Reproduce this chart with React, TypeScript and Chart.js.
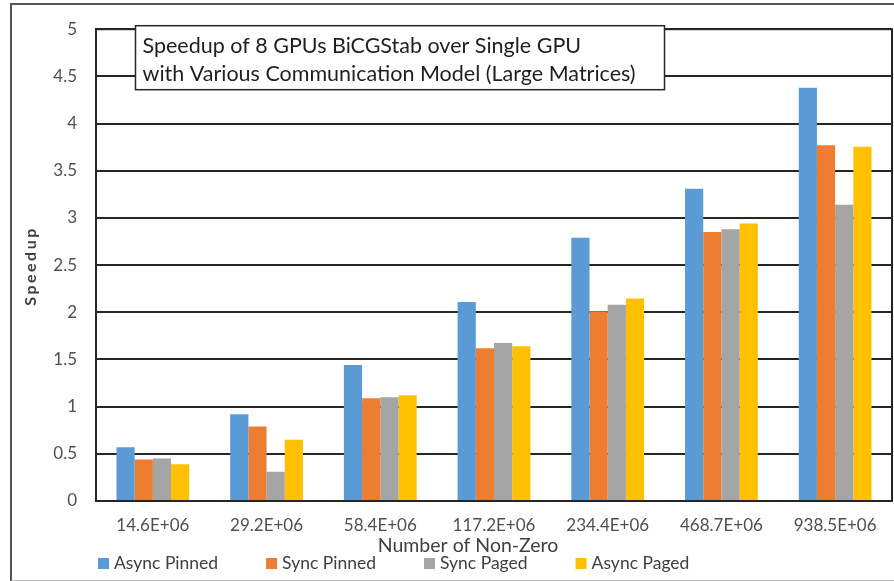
import { useEffect, useRef } from "react";
import { Chart, registerables } from "chart.js";

Chart.register(...registerables);

// Matrix sizes (number of non-zero entries) on the category axis
const categories = [
  "14.6E+06",
  "29.2E+06",
  "58.4E+06",
  "117.2E+06",
  "234.4E+06",
  "468.7E+06",
  "938.5E+06",
];

// Speedup of 8 GPUs over a single GPU, per communication model
const asyncPinned = [0.57, 0.92, 1.44, 2.11, 2.79, 3.31, 4.38];
const syncPinned = [0.44, 0.79, 1.09, 1.62, 2.01, 2.85, 3.77];
const syncPaged = [0.45, 0.31, 1.1, 1.675, 2.08, 2.88, 3.14];
const asyncPaged = [0.39, 0.65, 1.12, 1.64, 2.145, 2.94, 3.755];

const seriesNames = ["Async Pinned", "Sync Pinned", "Sync Paged", "Async Paged"];
const seriesColors = ["#5B9BD5", "#ED7D31", "#A5A5A5", "#FFC000"];

const yMin = 0;
const yMax = 5;
const yStep = 0.5;

const titleLines = [
  "Speedup of 8 GPUs BiCGStab over Single GPU",
  "with Various Communication Model (Large Matrices)",
];
const xTitle = "Number of Non-Zero";
const yTitle = "Speedup";

const FONT = "Lato, 'Open Sans', sans-serif";
const GRID = "#262626";
const TICK = "#505050";

// Draws the plot frame, the boxed title, the axis titles and the legend row.
const decorations = {
  id: "decorations",
  beforeDatasetsDraw(chart: any) {
    const { ctx, chartArea: a } = chart;
    ctx.save();
    ctx.strokeStyle = GRID;
    ctx.lineWidth = 2;
    ctx.strokeRect(a.left, a.top, a.right - a.left, a.bottom - a.top);
    ctx.restore();
  },
  afterDraw(chart: any) {
    const { ctx, chartArea: a } = chart;
    ctx.save();

    // boxed title inside the plot
    const boxL = a.left + 39.5;
    const boxT = a.top - 3.5;
    const boxW = 529;
    const boxH = 64;
    ctx.fillStyle = "#ffffff";
    ctx.fillRect(boxL, boxT, boxW, boxH);
    ctx.strokeStyle = GRID;
    ctx.lineWidth = 1.5;
    ctx.strokeRect(boxL, boxT, boxW, boxH);
    ctx.fillStyle = "#1f1f1f";
    ctx.font = `21.5px ${FONT}`;
    ctx.textAlign = "left";
    ctx.textBaseline = "middle";
    titleLines.forEach((line, i) => {
      ctx.fillText(line, boxL + 7, boxT + 20 + i * 28.5);
    });

    // y axis title
    ctx.save();
    ctx.translate(30.5, 266);
    ctx.rotate(-Math.PI / 2);
    ctx.font = `bold 16px ${FONT}`;
    (ctx as any).letterSpacing = "2.5px";
    ctx.fillStyle = "#404040";
    ctx.textAlign = "center";
    ctx.textBaseline = "middle";
    ctx.fillText(yTitle, 0, 0);
    ctx.restore();

    // x axis title
    ctx.font = `19.5px ${FONT}`;
    ctx.fillStyle = "#404040";
    ctx.textAlign = "center";
    ctx.textBaseline = "middle";
    ctx.fillText(xTitle, 468, 546);

    // legend row
    ctx.font = `17.5px ${FONT}`;
    ctx.textAlign = "left";
    let x = a.left + 2;
    const y = 563;
    chart.data.datasets.forEach((ds: any) => {
      ctx.fillStyle = ds.backgroundColor;
      ctx.fillRect(x, y - 5, 11, 11);
      ctx.fillStyle = "#404040";
      ctx.fillText(ds.label, x + 16, y);
      x += 16 + ctx.measureText(ds.label).width + 48;
    });

    ctx.restore();
  },
};

export default function App() {
  const canvasRef = useRef<HTMLCanvasElement | null>(null);

  useEffect(() => {
    const canvas = canvasRef.current;
    if (!canvas) return;
    Chart.defaults.font.family = FONT;
    const values = [asyncPinned, syncPinned, syncPaged, asyncPaged];
    const chart = new Chart(canvas, {
      type: "bar",
      data: {
        labels: categories,
        datasets: values.map((data, i) => ({
          label: seriesNames[i],
          data,
          backgroundColor: seriesColors[i],
          borderWidth: 0,
          categoryPercentage: 0.64,
          barPercentage: 1,
        })),
      },
      options: {
        responsive: false,
        animation: false,
        layout: { padding: { left: 0, right: 2, top: 15.5, bottom: 0 } },
        plugins: {
          legend: { display: false },
          title: { display: false },
          tooltip: { enabled: false },
        },
        scales: {
          x: {
            grid: { display: false, drawTicks: false },
            border: { display: true, color: GRID, width: 2 },
            ticks: { color: TICK, font: { size: 17 }, padding: 14, maxRotation: 0 },
            afterFit: (scale: any) => {
              scale.height = 80;
            },
          },
          y: {
            min: yMin,
            max: yMax,
            grid: { color: GRID, lineWidth: 2, drawTicks: false },
            border: { display: true, color: GRID, width: 2 },
            ticks: {
              stepSize: yStep,
              color: TICK,
              font: { size: 17 },
              padding: 19,
              callback: (v: any) => String(Number(v)),
            },
            afterFit: (scale: any) => {
              scale.width = 96;
            },
          },
        },
      },
      plugins: [decorations],
    });
    return () => chart.destroy();
  }, []);

  return (
    <div
      style={{
        position: "fixed",
        left: 0,
        top: 0,
        width: 894,
        height: 581,
        overflow: "hidden",
        background: "#ffffff",
      }}
    >
      <div
        style={{
          position: "absolute",
          left: 10,
          top: 3,
          width: 900,
          height: 575,
          borderLeft: "2px solid #555555",
          borderTop: "2px solid #555555",
          borderBottom: "2px solid #bdbdbd",
        }}
      />
      <canvas
        ref={canvasRef}
        width={894}
        height={581}
        style={{ position: "absolute", left: 0, top: 0, display: "block" }}
      />
    </div>
  );
}
